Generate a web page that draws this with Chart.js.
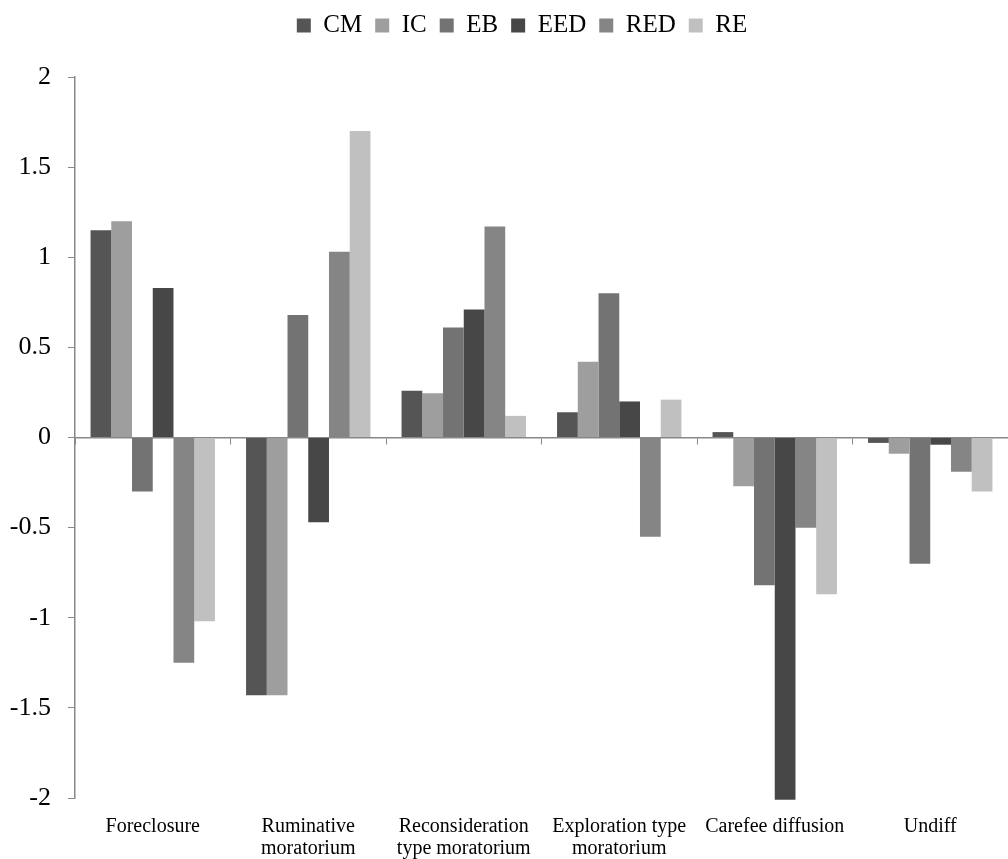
<!DOCTYPE html>
<html>
<head>
<meta charset="utf-8">
<script src="https://cdn.jsdelivr.net/npm/chart.js@4"></script>
<style>
  html, body { margin: 0; padding: 0; background: #fff; }
  #wrap { width: 1008px; height: 859px; }
</style>
</head>
<body>
<div id="wrap"><canvas id="c" width="1008" height="859"></canvas></div>
<script>
const categories = [
  "Foreclosure",
  ["Ruminative", "moratorium"],
  ["Reconsideration", "type moratorium"],
  ["Exploration type", "moratorium"],
  "Carefee diffusion",
  "Undiff"
];
const seriesNames = ["CM", "IC", "EB", "EED", "RED", "RE"];
const CM  = [1.15, -1.43, 0.26, 0.14, 0.03, -0.03];
const IC  = [1.20, -1.43, 0.245, 0.42, -0.27, -0.09];
const EB  = [-0.30, 0.68, 0.61, 0.80, -0.82, -0.70];
const EED = [0.83, -0.47, 0.71, 0.20, -2.01, -0.04];
const RED = [-1.25, 1.03, 1.17, -0.55, -0.50, -0.19];
const RE  = [-1.02, 1.70, 0.12, 0.21, -0.87, -0.30];
const colors = ["#555555", "#9e9e9e", "#737373", "#474747", "#858585", "#c0c0c0"];
const yTicks = [2, 1.5, 1, 0.5, 0, -0.5, -1, -1.5, -2];

const seriesValues = [CM, IC, EB, EED, RED, RE];
const datasets = seriesNames.map((n, i) => ({
  label: n,
  data: seriesValues[i],
  backgroundColor: colors[i],
  borderWidth: 0,
  categoryPercentage: 0.8,
  barPercentage: 1.0,
  clip: false
}));

const FONT = "'Liberation Serif', 'Times New Roman', serif";

const legendMargin = {
  id: 'legendMargin',
  beforeInit(chart) {
    const lg = chart.legend;
    const fit = lg.fit;
    lg.fit = function () {
      fit.call(this);
      this.height += 29;
    };
    const draw = lg.draw;
    lg.draw = function () {
      const ctx = this.ctx;
      ctx.save();
      ctx.translate(18, 0);
      draw.call(this);
      ctx.restore();
    };
  }
};

new Chart(document.getElementById('c'), {
  type: 'bar',
  data: { labels: categories, datasets },
  plugins: [legendMargin],
  options: {
    responsive: false,
    animation: false,
    devicePixelRatio: 1,
    layout: { padding: { left: 0, right: 0, top: 0, bottom: 0 } },
    plugins: {
      legend: {
        position: 'top',
        labels: {
          font: { family: FONT, size: 25 },
          color: '#000',
          boxWidth: 14,
          boxHeight: 14,
          padding: 13
        }
      },
      tooltip: { enabled: false }
    },
    scales: {
      x: {
        position: 'bottom',
        grid: { display: false, drawTicks: false },
        border: { display: false },
        afterFit: (s) => { s.height = 61; },
        ticks: {
          font: { family: FONT, size: 20, lineHeight: 1.1 },
          color: '#000',
          maxRotation: 0,
          autoSkip: false,
          padding: 18
        }
      },
      x2: {
        type: 'category',
        labels: categories,
        position: { y: 0 },
        grid: { offset: true, drawOnChartArea: false, drawTicks: true, tickLength: 6, color: '#888' },
        border: { display: true, color: '#888', width: 1.5 },
        ticks: { display: false }
      },
      y: {
        min: -2,
        max: 2,
        afterBuildTicks: (s) => { s.ticks = yTicks.map(v => ({ value: v })); },
        afterFit: (s) => { s.width = 75; },
        grid: { drawOnChartArea: false, drawTicks: true, tickLength: 7, color: '#888' },
        border: { display: true, color: '#888', width: 1.5 },
        ticks: {
          font: { family: FONT, size: 26 },
          color: '#000',
          padding: 17,
          callback: (v) => String(v)
        }
      }
    }
  }
});
</script>
</body>
</html>
